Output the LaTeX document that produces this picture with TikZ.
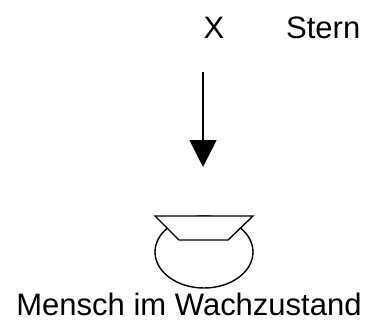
\documentclass[tikz,border=0pt]{standalone}
\usepackage{fontspec}
\setmainfont{Liberation Sans}
\usetikzlibrary{arrows.meta}
\begin{document}
\begin{tikzpicture}[x=1pt,y=-1pt,
  lbl/.style={inner sep=0pt, anchor=base, font=\fontsize{31}{36}\selectfont}]
\useasboundingbox (0,0) rectangle (370,322);
\node[lbl] (x) at (214,38) {X};
\node[lbl, anchor=base west] (stern) at (286,38) {Stern};
\coordinate (top) at (203,72);
\coordinate (tip) at (203,167);
\draw[line width=1.6pt, -{Triangle[width=27pt,length=27pt]}] (top) -- (tip);
% Mensch
\draw[line width=1.4pt] (204,252) ellipse (49 and 36);
\path [draw=black, fill=white, line width=1.4pt] (155,216) -- (253,216) -- (228,240) -- (179,240) -- cycle;
\node[lbl] (mensch) at (189,315) {Mensch im Wachzustand};
\end{tikzpicture}
\end{document}
